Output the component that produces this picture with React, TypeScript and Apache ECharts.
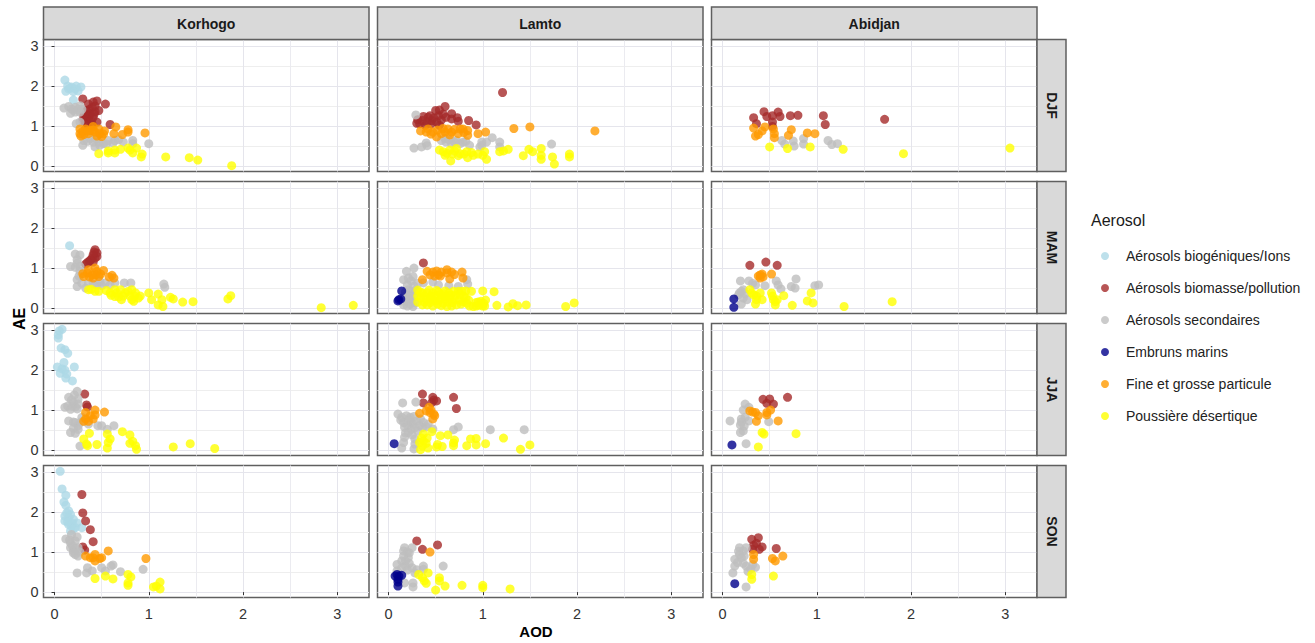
import React, { useEffect, useRef } from "react";
import * as echarts from "echarts";

// ---- categories and labels ----
const sites = ["Korhogo", "Lamto", "Abidjan"];
const seasons = ["DJF", "MAM", "JJA", "SON"];
const aerosols = [
  "Aérosols biogéniques/Ions",
  "Aérosols biomasse/pollution",
  "Aérosols secondaires",
  "Embruns marins",
  "Fine et grosse particule",
  "Poussière désertique",
];
const aerosolColors = ["#add8e6", "#a52a2a", "#bebebe", "#00008b", "#ff9a00", "#ffff00"];
const majorTicks = [0, 1, 2, 3];
const minorTicks = [0.5, 1.5, 2.5];

// ---- values: [AOD, AE] ----
const kDjfBio = [[.11,2.15],[.15,1.93],[.12,1.87],[.18,1.98],[.22,1.93],[.28,1.98],[.25,1.88],[.2,1.65],[.17,1.95],[.23,2.0],[.14,2.0],[.2,1.86]];
const kDjfBb = [[.3,1.68],[.54,1.55],[.59,1.04],[.45,1.63],[.41,1.6],[.36,1.55],[.4,1.47],[.47,1.39],[.34,1.39],[.38,1.3],[.33,1.22],[.3,1.14],[.36,1.18],[.41,1.22],[.45,1.1],[.35,1.04],[.4,1.04],[.34,1.3],[.37,1.42],[.43,1.36],[.39,1.12],[.33,1.1],[.43,1.5],[.36,1.25],[.42,1.3],[.31,1.26]];
const kDjfSec = [[.1,1.45],[.15,1.49],[.18,1.43],[.22,1.47],[.27,1.51],[.17,1.32],[.22,1.35],[.27,1.35],[.23,1.06],[.27,1.1],[.3,.52],[.31,.64],[.43,.48],[.47,.6],[.52,.56],[.57,.64],[.64,.64],[.73,.6],[.83,.64],[.83,.56],[1.0,.56],[.41,.6],[.48,.52],[.38,.69],[.2,1.4],[.25,1.42],[.29,1.42],[.35,.62],[.44,.68],[.55,.55],[.62,.58],[.68,.66]];
const kDjfFine = [[.65,.98],[.78,.91],[.78,.85],[.96,.83],[.63,.81],[.72,.79],[.27,.81],[.33,.93],[.31,.79],[.36,.81],[.41,.99],[.43,.85],[.48,.81],[.47,.93],[.53,.88],[.38,.89],[.5,.74],[.27,.93],[.3,.87],[.35,.88],[.41,.9],[.45,.75],[.52,.8],[.28,.75]];
const kDjfDust = [[.47,.31],[.57,.38],[.57,.33],[.64,.4],[.64,.33],[.7,.42],[.78,.45],[.87,.45],[.83,.33],[.93,.3],[.92,.23],[1.18,.23],[1.43,.21],[1.52,.15],[1.88,.01],[.8,.4]];

const lDjfBb = [[1.21,1.84],[.6,1.49],[.5,1.39],[.54,1.4],[.53,1.26],[.37,1.24],[.42,1.22],[.31,1.16],[.33,1.06],[.39,1.02],[.46,1.14],[.54,1.02],[.61,1.22],[.67,1.31],[.67,1.18],[.73,1.21],[.74,1.12],[.85,1.14],[.93,1.03],[.51,1.1],[.3,1.07],[.44,1.26],[.36,1.14],[.41,1.1],[.48,1.2],[.56,1.15],[.58,1.3],[.45,1.05]];
const lDjfSec = [[.29,1.28],[.27,.45],[.35,.48],[.4,.58],[.41,.51],[.56,.64],[.61,.6],[.67,.56],[.72,.64],[.79,.6],[.86,.52],[.97,.48],[.99,.6],[1.04,.6],[1.1,.71],[1.18,.6],[1.18,.48],[1.73,.55],[.6,.69],[.99,.52],[.64,.66],[.7,.6],[.76,.56],[.82,.62]];
const lDjfFine = [[2.19,.88],[1.33,.94],[1.5,.98],[.34,.88],[.42,.93],[.47,.85],[.51,.73],[.56,.81],[.63,.93],[.67,.85],[.74,.81],[.79,.93],[.84,.89],[.84,.77],[.95,.81],[1.03,.85],[.4,.85],[.6,.85],[.76,.93],[.45,.8],[.52,.9],[.58,.94],[.65,.78],[.7,.92],[.8,.84]];
const lDjfDust = [[.54,.4],[.6,.27],[.66,.13],[.65,.4],[.72,.44],[.76,.31],[.83,.36],[.84,.21],[.9,.27],[1.02,.36],[1.04,.17],[1.0,.27],[1.18,.36],[1.27,.42],[1.43,.26],[1.49,.42],[1.53,.36],[1.62,.44],[1.62,.17],[1.74,.23],[1.76,.05],[1.92,.3],[1.92,.23],[1.62,.27],[.58,.36],[.62,.32],[.7,.38],[.74,.26],[.8,.3],[.88,.34],[.95,.3],[1.22,.38],[.68,.3]];

const aDjfBb = [[.44,1.36],[.47,1.24],[.33,1.21],[.36,1.06],[.53,1.26],[.53,1.1],[.53,.99],[.59,1.35],[.61,1.24],[.72,1.26],[.8,1.27],[1.07,1.26],[1.09,1.04],[1.72,1.17]];
const aDjfSec = [[.63,.64],[.66,.55],[.75,.63],[.76,.5],[.86,.69],[.86,.55],[1.12,.64],[1.16,.54],[1.22,.56]];
const aDjfFine = [[.33,.95],[.45,.98],[.42,.88],[.35,.75],[.38,.79],[.54,.93],[.55,.81],[.55,.71],[.73,.91],[.7,.77],[.9,.83],[.98,.81]];
const aDjfDust = [[.5,.48],[.69,.44],[.93,.48],[1.28,.42],[1.92,.31],[3.05,.45]];

const kMamBio = [[.16,1.56]];
const kMamBb = [[.43,1.46],[.45,1.38],[.41,1.33],[.4,1.25],[.43,1.25],[.37,1.17],[.33,1.1],[.41,1.15],[.45,1.29],[.38,1.2],[.42,1.4],[.35,1.14]];
const kMamSec = [[.22,1.35],[.27,1.33],[.24,1.21],[.17,1.04],[.22,1.02],[.27,1.04],[.24,.71],[.24,.54],[.33,.5],[.36,.63],[.45,.58],[.54,.63],[.59,.58],[.64,.63],[.74,.63],[.81,.63],[1.16,.6],[1.17,.52],[.27,.92],[.48,.67],[.24,1.12],[.26,.8],[.41,.6],[.5,.56],[.29,.62]];
const kMamFine = [[.31,.79],[.35,.88],[.4,.83],[.45,.92],[.47,.79],[.43,1.0],[.52,.94],[.61,.82],[.63,.75],[.36,.96],[.41,.75],[.3,.86],[.37,.78],[.44,.84],[.49,.85],[.58,.78]];
const kMamDust = [[.36,.46],[.43,.42],[.47,.42],[.59,.38],[.64,.46],[.64,.29],[.71,.21],[.75,.38],[.7,.46],[.82,.46],[.86,.38],[.84,.17],[.89,.25],[.82,.21],[1.0,.38],[1.03,.21],[1.1,.35],[1.1,.08],[1.15,.04],[1.14,.21],[1.23,.27],[1.26,.23],[1.36,.15],[1.47,.16],[1.84,.23],[1.87,.31],[2.83,.01],[3.17,.07],[.39,.47],[.55,.44],[.6,.32],[.66,.38],[.68,.28],[.73,.3],[.78,.42],[.8,.3],[.85,.3],[.91,.3]];

const lMamBb = [[.37,1.13]];
const lMamSec = [[.19,.92],[.27,1.0],[.16,.71],[.24,.68],[.26,.79],[.37,.63],[.47,.65],[.53,.58],[.64,.56],[.74,.54],[.83,.71],[.84,.6],[.21,.46],[.24,.42],[.17,.29],[.19,.17],[.24,.21],[.26,.04],[.16,.08],[.23,.33],[.28,.13],[.2,.58],[.27,.55],[.22,.3],[.27,.3],[.2,.05],[.23,.1],[.29,.44],[.31,.62],[.18,.4],[.15,.18],[.21,.75]];
const lMamSea = [[.14,.43],[.11,.21],[.13,.23],[.1,.18]];
const lMamFine = [[.47,.9],[.44,.83],[.53,.83],[.56,.9],[.62,.96],[.67,.9],[.65,.73],[.78,.9],[.79,.75],[.36,.71],[.51,.93],[.41,.92],[.49,.8],[.55,.8],[.62,.88],[.7,.84]];
const lMamDust = [[.31,.45],[.31,.3],[.31,.15],[.36,.38],[.36,.08],[.4,.22],[.43,.45],[.45,.3],[.47,.05],[.5,.18],[.53,.4],[.56,.27],[.56,.06],[.6,.43],[.63,.15],[.66,.33],[.67,.05],[.7,.22],[.74,.42],[.77,.1],[.8,.3],[.82,.43],[.85,.2],[.86,.05],[.88,.42],[1.0,.43],[.95,.15],[.93,.05],[1.0,.05],[1.03,.2],[1.02,.05],[1.12,.41],[1.15,.07],[1.27,.03],[1.32,.11],[1.37,.06],[1.46,.08],[1.88,.04],[1.97,.13],
  [.34,.25],[.34,.4],[.38,.15],[.38,.3],[.41,.38],[.41,.08],[.44,.14],[.44,.24],[.47,.38],[.48,.2],[.49,.3],[.51,.44],[.52,.1],[.54,.2],[.55,.34],[.58,.12],[.59,.36],[.6,.22],[.61,.3],[.62,.04],[.64,.38],[.65,.24],[.68,.14],[.69,.42],[.71,.32],[.72,.08],[.75,.2],[.76,.34],[.78,.42],[.79,.16],[.82,.26],[.83,.12],[.9,.04],[.93,.14],[.96,.07],[.98,.17],[1.01,.12]];

const aMamBb = [[.29,1.07],[.46,1.15],[.58,1.07]];
const aMamSec = [[.19,.68],[.28,.68],[.35,.58],[.45,.56],[.57,.68],[.59,.58],[.62,.48],[.78,.73],[.73,.54],[.77,.5],[.98,.56],[1.02,.58],[.2,.42],[.17,.33],[.22,.25],[.2,.1],[.26,.21],[.22,.46],[.18,.38],[.24,.36],[.32,.62]];
const aMamSea = [[.12,.23],[.12,.02]];
const aMamFine = [[.52,.85],[.4,.83],[.4,.75],[.42,.85],[.38,.8],[.43,.78]];
const aMamDust = [[.29,.46],[.33,.33],[.36,.21],[.35,.1],[.4,.38],[.42,.21],[.52,.38],[.54,.21],[.56,.08],[.58,.21],[.65,.31],[.74,.07],[.9,.18],[.96,.13],[.94,.38],[1.29,.04],[1.8,.16],[.31,.38],[.36,.3],[.53,.3],[.56,.16]];

const kJjaBio = [[.08,3.02],[.05,2.98],[.04,2.88],[.04,2.8],[.07,2.55],[.11,2.51],[.14,2.42],[.1,2.19],[.03,2.08],[.21,2.08],[.08,2.03],[.11,2.0],[.06,1.92],[.13,1.9],[.12,1.8],[.19,1.73]];
const kJjaBb = [[.32,1.4],[.34,1.13],[.35,1.08]];
const kJjaSec = [[.24,1.47],[.21,1.38],[.15,1.32],[.25,1.28],[.2,1.19],[.11,1.07],[.17,1.02],[.22,1.08],[.25,1.15],[.15,.73],[.22,.69],[.29,.82],[.25,.61],[.17,.44],[.22,.42],[.25,.52],[.36,.65],[.46,.61],[.5,.61],[.56,.52],[.63,.61],[.27,.1],[.18,1.25],[.14,1.1],[.19,1.1],[.24,1.03],[.2,.7],[.28,.7],[.2,.55]];
const kJjaFine = [[.33,.94],[.43,1.0],[.53,.95],[.43,.88],[.38,.86],[.33,.78],[.41,.78],[.31,.72],[.36,.72]];
const kJjaDust = [[.37,.42],[.31,.28],[.34,.15],[.35,.11],[.45,.14],[.56,.4],[.59,.28],[.56,.05],[.57,.19],[.72,.46],[.8,.38],[.8,.17],[.83,.22],[.86,.11],[.87,.02],[1.26,.08],[1.44,.16],[1.7,.04]];

const lJjaBb = [[.36,1.4],[.37,1.18],[.47,1.32],[.48,1.25],[.46,1.19],[.51,1.23],[.69,1.32],[.72,1.04]];
const lJjaSec = [[.15,1.18],[.29,1.2],[.1,.9],[.14,.82],[.19,.86],[.23,.82],[.16,.69],[.24,.69],[.3,.73],[.37,.69],[.42,.65],[.17,.57],[.24,.52],[.31,.48],[.47,.53],[.17,.32],[.16,.19],[.14,.05],[.28,.28],[.27,.03],[.28,.15],[.69,.51],[.74,.58],[1.08,.51],[1.44,.51],[.21,.44],[.26,.65],[.27,.84],[.33,.62],[.2,.62],[.28,.56],[.36,.56],[.13,.75],[.22,.75],[.34,.78],[.18,.43],[.25,.38],[.4,.58]];
const lJjaSea = [[.06,.16]];
const lJjaFine = [[.33,.92],[.43,1.07],[.44,.94],[.49,.86],[.47,.78],[.4,.98],[.45,1.0],[.48,.9]];
const lJjaDust = [[.37,.4],[.46,.46],[.33,.19],[.4,.17],[.34,.01],[.42,.05],[.51,.08],[.57,.09],[.55,.36],[.63,.38],[.69,.11],[.7,.25],[.83,.11],[.87,.28],[.93,.29],[.93,.13],[1.03,.16],[1.22,.3],[1.4,.02],[1.5,.13],[.37,.23],[.36,.1],[.41,.3],[.35,.3],[.52,.14],[.69,.18]];

const aJjaBb = [[.43,1.27],[.5,1.28],[.47,1.17],[.54,1.15],[.69,1.32]];
const aJjaSec = [[.24,1.15],[.22,1.0],[.28,1.07],[.08,.73],[.2,.78],[.19,.63],[.24,.82],[.28,.73],[.19,.44],[.22,.48],[.25,.16],[.49,.71],[.2,.7],[.23,.6]];
const aJjaSea = [[.1,.13]];
const aJjaFine = [[.29,.98],[.35,.94],[.38,.86],[.36,.72],[.47,.94],[.51,1.0],[.47,.88],[.59,.73],[.32,.95]];
const aJjaDust = [[.42,.44],[.44,.4],[.78,.41],[.38,.08]];

const kSonBio = [[.06,3.02],[.08,2.58],[.12,2.42],[.1,2.25],[.12,2.17],[.15,2.03],[.11,1.9],[.17,1.94],[.11,1.78],[.2,1.82],[.15,1.69],[.18,1.65],[.24,1.73],[.29,1.61],[.15,1.86],[.13,1.98],[.17,1.53],[.22,1.61],[.14,1.75],[.19,1.72],[.2,1.58]];
const kSonBb = [[.29,2.44],[.3,1.98],[.33,1.78],[.38,1.56],[.41,1.26],[.3,1.13],[.32,1.05]];
const kSonSec = [[.12,1.33],[.18,1.44],[.24,1.38],[.17,1.23],[.22,1.28],[.17,1.11],[.2,1.03],[.22,.94],[.25,.9],[.24,.48],[.34,.48],[.35,.61],[.4,.53],[.5,.61],[.54,.53],[.6,.65],[.62,.68],[.7,.51],[.94,.57],[.25,1.11],[.19,1.16],[.22,1.08],[.27,1.0],[.16,1.3],[.2,.98]];
const kSonFine = [[.57,1.03],[.97,.84],[.33,.9],[.43,.94],[.38,.86],[.48,.84],[.43,.78],[.5,.86],[.41,.86]];
const kSonDust = [[.43,.34],[.54,.4],[.62,.33],[.78,.44],[.81,.38],[.78,.23],[.78,.17],[1.05,.13],[1.08,.15],[1.12,.25],[1.12,.08]];

const lSonBb = [[.3,1.28],[.36,1.07],[.52,1.18]];
const lSonSec = [[.17,1.11],[.25,1.11],[.22,.98],[.16,.9],[.21,.86],[.14,.78],[.09,.69],[.18,.65],[.25,.61],[.09,.53],[.28,.48],[.37,.65],[.58,.65],[.17,.23],[.26,.13],[.26,.23],[.37,.57],[.16,1.03],[.2,1.0],[.18,.78],[.14,.6],[.22,.72],[.2,.55],[.3,.56]];
const lSonSea = [[.07,.4],[.11,.4],[.1,.32],[.1,.15],[.09,.44],[.14,.42],[.1,.25]];
const lSonFine = [[.44,1.0]];
const lSonDust = [[.32,.44],[.36,.36],[.4,.22],[.42,.48],[.54,.36],[.5,.05],[.6,.15],[.78,.17],[1.0,.17],[1.0,.11],[1.29,.08],[.38,.28],[.54,.28]];

const aSonBb = [[.38,1.36],[.31,1.32],[.33,1.17],[.42,1.13],[.32,1.07],[.39,1.07],[.57,1.09],[.36,1.22]];
const aSonSec = [[.18,1.11],[.25,1.11],[.18,.94],[.13,.82],[.2,.86],[.13,.65],[.25,.65],[.32,.69],[.11,.48],[.27,.52],[.35,.62],[.25,.13],[.22,1.03],[.16,.74],[.22,.72],[.17,1.02],[.23,.9],[.3,.58]];
const aSonSea = [[.13,.21]];
const aSonFine = [[.33,.94],[.33,.82],[.53,.84],[.56,.78],[.64,.9]];
const aSonDust = [[.31,.44],[.31,.32],[.54,.4]];

const none: number[][] = [];
// rows: season; columns: site; inner order follows `aerosols`
const panels = [
  [
    [kDjfBio, kDjfBb, kDjfSec, none, kDjfFine, kDjfDust],
    [none, lDjfBb, lDjfSec, none, lDjfFine, lDjfDust],
    [none, aDjfBb, aDjfSec, none, aDjfFine, aDjfDust],
  ],
  [
    [kMamBio, kMamBb, kMamSec, none, kMamFine, kMamDust],
    [none, lMamBb, lMamSec, lMamSea, lMamFine, lMamDust],
    [none, aMamBb, aMamSec, aMamSea, aMamFine, aMamDust],
  ],
  [
    [kJjaBio, kJjaBb, kJjaSec, none, kJjaFine, kJjaDust],
    [none, lJjaBb, lJjaSec, lJjaSea, lJjaFine, lJjaDust],
    [none, aJjaBb, aJjaSec, aJjaSea, aJjaFine, aJjaDust],
  ],
  [
    [kSonBio, kSonBb, kSonSec, none, kSonFine, kSonDust],
    [none, lSonBb, lSonSec, lSonSea, lSonFine, lSonDust],
    [none, aSonBb, aSonSec, aSonSea, aSonFine, aSonDust],
  ],
];

// ---- layout ----
const colX = [43.5, 377.5, 711.5];
const panelW = 325.5;
const rowY = [39.5, 181.5, 323.5, 465.5];
const panelH = 132;
const stripTop = 7;
const stripW = 29;
const FONT = "'Liberation Sans', Arial, sans-serif";
const BORDER = "#5f5f5f";

function buildOption() {
  const grid: any[] = [];
  const xAxis: any[] = [];
  const yAxis: any[] = [];
  const series: any[] = [];
  const graphic: any[] = [];

  rowY.forEach((top, r) => {
    colX.forEach((left, c) => {
      const gi = grid.length;
      grid.push({
        left, top, width: panelW, height: panelH, show: true,
        backgroundColor: "#fff", borderColor: BORDER, borderWidth: 1.5,
      });
      const base = { gridIndex: gi, axisLine: { show: false } };
      const xr = { min: -0.117, max: 3.337 };
      const yr = { min: -0.135, max: 3.165 };
      const bottom = r === rowY.length - 1;
      const first = c === 0;
      xAxis.push({
        ...base, ...xr, type: "value", position: "bottom",
        axisTick: { show: bottom, length: 3, customValues: majorTicks, lineStyle: { color: "#333" } },
        axisLabel: { show: bottom, customValues: majorTicks, color: "#333", fontSize: 14.5, fontFamily: FONT, margin: 9 },
        splitLine: { show: true, lineStyle: { color: "#e5e5ec", width: 1 } },
      });
      xAxis.push({
        ...base, ...xr, type: "value", position: "top",
        axisTick: { show: false, customValues: minorTicks },
        axisLabel: { show: false, customValues: minorTicks },
        splitLine: { show: true, lineStyle: { color: "#ebebf0", width: 1 } },
      });
      yAxis.push({
        ...base, ...yr, type: "value", position: "left",
        axisTick: { show: first, length: 3, customValues: majorTicks, lineStyle: { color: "#333" } },
        axisLabel: { show: first, customValues: majorTicks, color: "#333", fontSize: 14.5, fontFamily: FONT, margin: 5 },
        splitLine: { show: true, lineStyle: { color: "#e5e5ec", width: 1 } },
      });
      yAxis.push({
        ...base, ...yr, type: "value", position: "right",
        axisTick: { show: false, customValues: minorTicks },
        axisLabel: { show: false, customValues: minorTicks },
        splitLine: { show: true, lineStyle: { color: "#eeeeee", width: 1 } },
      });
      aerosols.forEach((name, a) => {
        series.push({
          type: "scatter",
          name,
          xAxisIndex: gi * 2,
          yAxisIndex: gi * 2,
          data: panels[r][c][a],
          symbol: "circle",
          symbolSize: 9,
          itemStyle: { color: aerosolColors[a], opacity: 0.8 },
          emphasis: { disabled: true },
          silent: true,
          z: 2 + a,
        });
      });
    });
  });

  sites.forEach((s, c) => {
    graphic.push({
      type: "rect", z: 20,
      shape: { x: colX[c], y: stripTop, width: panelW, height: rowY[0] - stripTop },
      style: { fill: "#d9d9d9", stroke: BORDER, lineWidth: 1.5 },
    });
    graphic.push({
      type: "text", z: 21, x: colX[c] + panelW / 2, y: (stripTop + rowY[0]) / 2 + 1,
      style: { text: s, fill: "#1a1a1a", font: `bold 14px ${FONT}`, align: "center", verticalAlign: "middle" },
    });
  });
  seasons.forEach((s, r) => {
    const sx = colX[2] + panelW;
    graphic.push({
      type: "rect", z: 20,
      shape: { x: sx, y: rowY[r], width: stripW, height: panelH },
      style: { fill: "#d9d9d9", stroke: BORDER, lineWidth: 1.5 },
    });
    graphic.push({
      type: "text", z: 21, x: sx + stripW / 2, y: rowY[r] + panelH / 2, rotation: -Math.PI / 2,
      style: { text: s, fill: "#1a1a1a", font: `bold 14px ${FONT}`, align: "center", verticalAlign: "middle" },
    });
  });
  graphic.push({
    type: "text", x: 19, y: 319, rotation: Math.PI / 2,
    style: { text: "AE", fill: "#000", font: `bold 16px ${FONT}`, align: "center", verticalAlign: "middle" },
  });
  graphic.push({
    type: "text", x: 536, y: 631,
    style: { text: "AOD", fill: "#000", font: `bold 15px ${FONT}`, align: "center", verticalAlign: "middle" },
  });
  graphic.push({
    type: "text", x: 1091, y: 220,
    style: { text: "Aerosol", fill: "#1a1a1a", font: `16px ${FONT}`, align: "left", verticalAlign: "middle" },
  });

  return {
    animation: false,
    backgroundColor: "#fff",
    grid, xAxis, yAxis, series, graphic,
    legend: {
      data: aerosols,
      orient: "vertical",
      left: 1096,
      top: 244,
      itemWidth: 32,
      itemHeight: 8,
      itemGap: 18,
      icon: "circle",
      selectedMode: false,
      textStyle: { fontFamily: FONT, fontSize: 14, color: "#222", lineHeight: 14 },
    },
  };
}

export default function App() {
  const ref = useRef<HTMLDivElement>(null);
  useEffect(() => {
    const chart = echarts.init(ref.current!, undefined, { renderer: "svg" });
    chart.setOption(buildOption() as any);
    return () => chart.dispose();
  }, []);
  return (
    <div
      ref={ref}
      style={{ position: "fixed", left: 0, top: 0, width: 1315, height: 643, background: "#fff" }}
    />
  );
}
